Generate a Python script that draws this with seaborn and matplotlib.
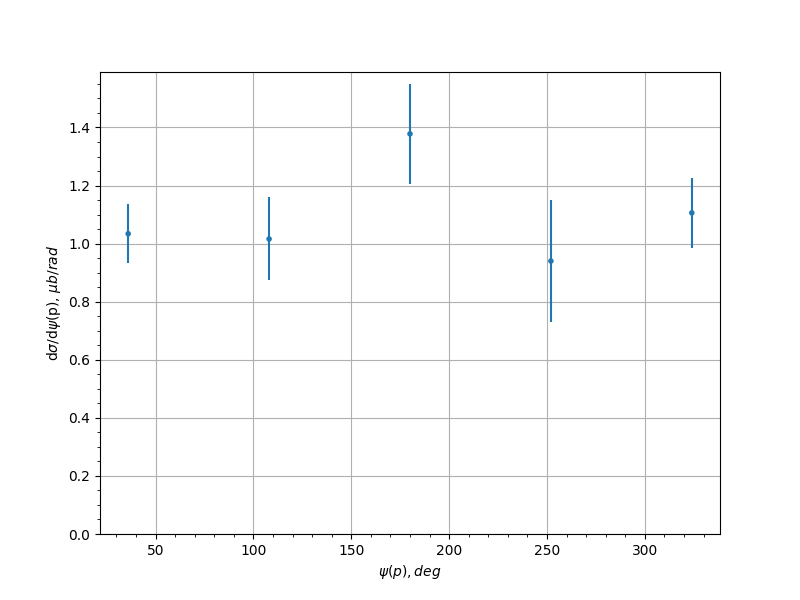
import pandas as pd
import matplotlib
matplotlib.use("Agg")
import matplotlib.pyplot as plt
import seaborn as sns

# angle bins (deg) and measured cross sections
psi = [36, 108, 180, 252, 324]
dsigma = [1.034, 1.016, 1.378, 0.940, 1.106]
dsigma_err = [0.101, 0.143, 0.172, 0.210, 0.120]

data = pd.DataFrame({'psi': psi, 'dsigma': dsigma, 'err': dsigma_err})

fig, ax = plt.subplots(figsize=(8, 6), dpi=100)

# error bars first, points on top
ax.errorbar(data['psi'], data['dsigma'], yerr=data['err'], fmt='none',
            ecolor='#1f77b4', elinewidth=1.5)
sns.scatterplot(data=data, x='psi', y='dsigma', ax=ax, color='#1f77b4',
                s=16, edgecolor='none', zorder=3)

ax.set_ylim(bottom=0)
ax.minorticks_on()
ax.grid(True, which='major', color='#b0b0b0', linewidth=0.8)
ax.set_axisbelow(True)
ax.set_xlabel(r'$\psi(p), deg$')
ax.set_ylabel(r'd$\sigma$/d$\psi$(p), $\mu b/rad$')

plt.savefig('out.png', dpi=100)
